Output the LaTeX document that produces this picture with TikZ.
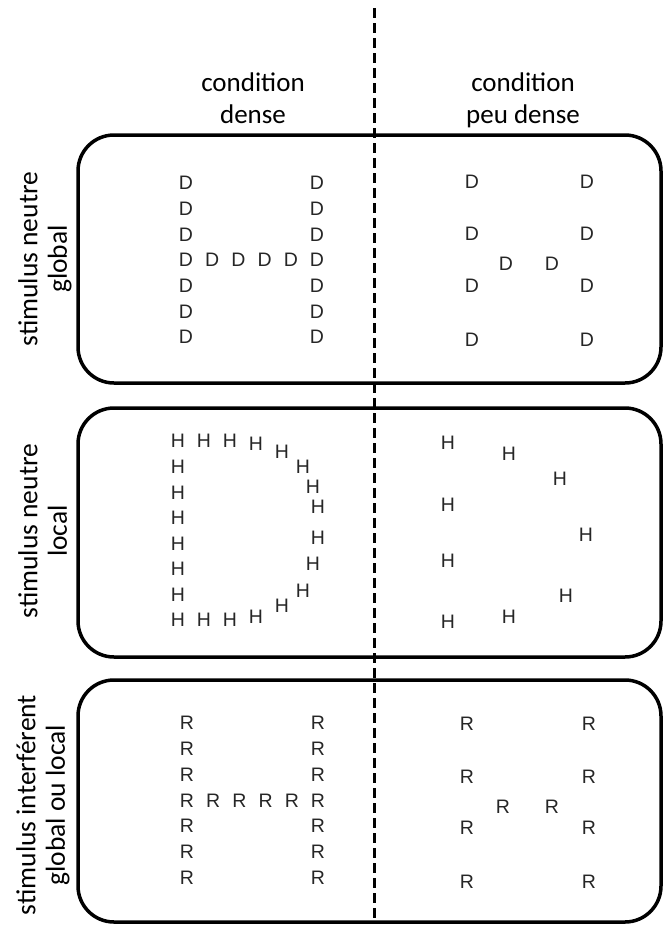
\documentclass[tikz,border=0pt]{standalone}
\usepackage{fontspec}
\setmainfont{Carlito}
\newfontfamily\lettrefont{Liberation Sans}
\usetikzlibrary{positioning}

\tikzset{
  panneau/.style={draw, line width=3.5pt, rounded corners=36pt},
  separation/.style={draw, line width=3pt, dash pattern=on 10pt off 5pt},
  entete/.style={align=center, inner sep=0pt, anchor=north, font=\fontsize{27}{32}\selectfont},
  ligne/.style={align=center, inner sep=0pt, anchor=north, rotate=90, font=\fontsize{27.5}{29.5}\selectfont},
  lettre/.style={inner sep=0pt, text=black!85, font=\lettrefont\fontsize{19.5}{20}\selectfont},
}

\begin{document}
\begin{tikzpicture}[x=1pt, y=-1pt]
  \useasboundingbox (0,0) rectangle (664,927);
  % ---- panels ----
  \draw[panneau] (78,135) rectangle (661,383);
  \draw[panneau] (78,408) rectangle (661,657);
  \draw[panneau] (78,680) rectangle (661,922);
  % ---- dashed separation ----
  \coordinate (septop) at (374,8);
  \coordinate (sepbot) at (374,922);
  \draw[separation] (septop) -- (sepbot);
  % ---- column and row labels ----
  \node[entete] (dense) at (253,73) {condition\\dense};
  \node[entete] (peudense) at (523,73) {condition\\peu dense};
  \node[ligne] (neutreglobal) at (18,259) {stimulus neutre\\global};
  \node[ligne] (neutrelocal) at (18,531) {stimulus neutre\\local};
  \node[ligne] (interferent) at (16,805) {stimulus interférent\\global ou local};
  % ---- top: global H made of D ----
  \foreach \y [count=\i] in {183,208.7,234.4,260.1,285.8,311.5,337.2} {
    \node[lettre] (dg\i) at (186,\y) {D};
    \node[lettre] (dd\i) at (317,\y) {D};
  }
  \foreach \x [count=\i] in {212.2,238.4,264.6,290.8}
    \node[lettre] (dm\i) at (\x,260.1) {D};
  \foreach \y [count=\i] in {182,234,286,340} {
    \node[lettre] (sg\i) at (472,\y) {D};
    \node[lettre] (sd\i) at (587,\y) {D};
  }
  \node[lettre] (sm1) at (506,264) {D};
  \node[lettre] (sm2) at (552,264) {D};
  % ---- middle: local D made of H ----
  \foreach \y [count=\i] in {441,466.6,492.3,517.9,543.6,569.1,594.7,620}
    \node[lettre] (hg\i) at (178,\y) {H};
  \foreach \x/\y [count=\i] in {204/441,230/441,256/444,282/452,303/467,313/487,318/507,
      318/538,313/564,303/591,282/606,256/617,230/620,204/620}
    \node[lettre] (hc\i) at (\x,\y) {H};
  \foreach \y [count=\i] in {443,505,561,622}
    \node[lettre] (tg\i) at (448,\y) {H};
  \foreach \x/\y [count=\i] in {509/454,560/479,586/535,566/596,509/617}
    \node[lettre] (tc\i) at (\x,\y) {H};
  % ---- bottom: H made of R ----
  \foreach \y [count=\i] in {723,748.8,774.6,800.4,826.2,852,877.8} {
    \node[lettre] (rg\i) at (187,\y) {R};
    \node[lettre] (rd\i) at (318,\y) {R};
  }
  \foreach \x [count=\i] in {213.2,239.4,265.6,291.8}
    \node[lettre] (rm\i) at (\x,800.4) {R};
  \foreach \y [count=\i] in {724,777,828,882} {
    \node[lettre] (qg\i) at (467,\y) {R};
    \node[lettre] (qd\i) at (589,\y) {R};
  }
  \node[lettre] (qm1) at (503,807) {R};
  \node[lettre] (qm2) at (552,807) {R};
\end{tikzpicture}
\end{document}
